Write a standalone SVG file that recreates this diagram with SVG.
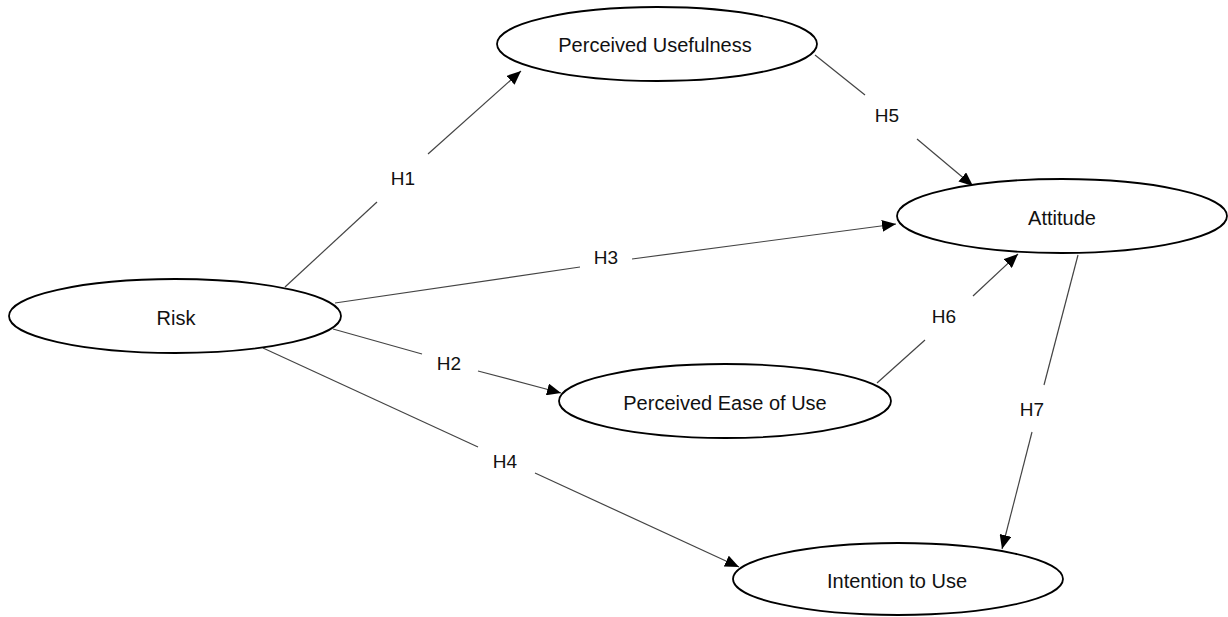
<svg xmlns="http://www.w3.org/2000/svg" width="1228" height="617" viewBox="0 0 1228 617">
<style>
.node ellipse{fill:#fff;stroke:#000;stroke-width:1.8}
.node text{font-family:"Liberation Sans",Arial,sans-serif;font-size:20px;fill:#111;text-anchor:middle}
.conn line{stroke:#444;stroke-width:1.2}
.lbl{font-family:"Liberation Sans",Arial,sans-serif;font-size:19px;fill:#111;text-anchor:middle}
</style>
<defs>
<marker id="arr" markerUnits="userSpaceOnUse" markerWidth="14" markerHeight="12" viewBox="0 0 14 12" refX="14" refY="6" orient="auto">
<path d="M0,0 L14,6 L0,12 z" fill="#000"/>
</marker>
</defs>
<rect width="1228" height="617" fill="#fff"/>
<g id="connectors" class="conn">
<line x1="285" y1="287" x2="377" y2="202"/>
<line x1="428" y1="154" x2="521" y2="71" marker-end="url(#arr)"/>
<line x1="333" y1="329" x2="422" y2="354"/>
<line x1="478" y1="371" x2="561" y2="393" marker-end="url(#arr)"/>
<line x1="335" y1="303" x2="580" y2="267"/>
<line x1="632" y1="259" x2="896" y2="224" marker-end="url(#arr)"/>
<line x1="263" y1="348" x2="478" y2="447"/>
<line x1="535" y1="473" x2="739" y2="567" marker-end="url(#arr)"/>
<line x1="815" y1="55" x2="865" y2="95"/>
<line x1="917" y1="139" x2="973" y2="186" marker-end="url(#arr)"/>
<line x1="877" y1="383" x2="925" y2="340"/>
<line x1="973" y1="296" x2="1018" y2="254" marker-end="url(#arr)"/>
<line x1="1078" y1="255" x2="1044" y2="385"/>
<line x1="1032" y1="432" x2="1002" y2="549" marker-end="url(#arr)"/>
<text class="lbl" x="403" y="185">H1</text>
<text class="lbl" x="449" y="370">H2</text>
<text class="lbl" x="606" y="264">H3</text>
<text class="lbl" x="505" y="468">H4</text>
<text class="lbl" x="887" y="122">H5</text>
<text class="lbl" x="944" y="323">H6</text>
<text class="lbl" x="1032" y="416">H7</text>
</g>
<g id="risk" class="node">
<ellipse cx="175" cy="316" rx="166" ry="37"/>
<text x="176" y="325">Risk</text>
</g>
<g id="perceived-usefulness" class="node">
<ellipse cx="657" cy="44" rx="160" ry="37"/>
<text x="655" y="52">Perceived Usefulness</text>
</g>
<g id="attitude" class="node">
<ellipse cx="1062" cy="216" rx="165" ry="37"/>
<text x="1062" y="225">Attitude</text>
</g>
<g id="perceived-ease-of-use" class="node">
<ellipse cx="725" cy="401" rx="166" ry="37"/>
<text x="725" y="410">Perceived Ease of Use</text>
</g>
<g id="intention-to-use" class="node">
<ellipse cx="898" cy="579" rx="165" ry="36"/>
<text x="897" y="588">Intention to Use</text>
</g>
</svg>
